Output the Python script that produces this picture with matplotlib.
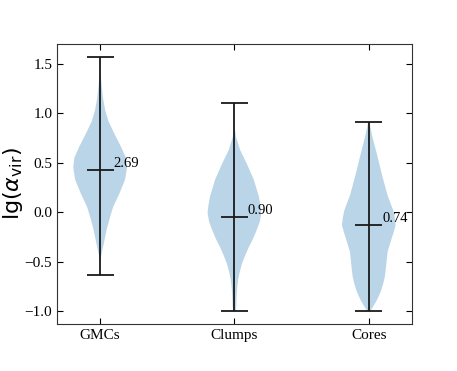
import numpy as np
import matplotlib.pyplot as plt

plt.rcParams['font.family'] = 'Liberation Serif'
plt.rcParams['mathtext.fontset'] = 'dejavusans'

categories = ['GMCs', 'Clumps', 'Cores']
positions = np.array([1, 2, 3])
mins = [-0.63, -1.00, -1.00]
maxs = [1.57, 1.107, 0.915]
medians = [0.43, -0.046, -0.131]
median_labels = ['2.69', '0.90', '0.74']

# violin outlines: level and relative half-width
gmc_y = [1.57, 1.40, 1.27, 1.15, 1.03, 0.92, 0.80, 0.66, 0.55, 0.45, 0.33, 0.19,
         0.05, -0.05, -0.18, -0.30, -0.40, -0.47, -0.55, -0.63]
gmc_w = [0.0, 0.02, 0.06, 0.11, 0.19, 0.31, 0.52, 0.78, 0.96, 1.0, 0.93, 0.72,
         0.48, 0.37, 0.24, 0.15, 0.07, 0.02, 0.0, 0.0]

clump_y = [1.107, 0.85, 0.76, 0.63, 0.49, 0.33, 0.23, 0.16, 0.05, -0.01, -0.10,
           -0.18, -0.27, -0.35, -0.43, -0.52, -0.60, -0.68, -0.77, -0.85, -0.94, -1.0]
clump_w = [0.0, 0.01, 0.06, 0.21, 0.46, 0.72, 0.83, 0.91, 0.98, 1.0, 0.94,
           0.83, 0.69, 0.54, 0.41, 0.28, 0.20, 0.14, 0.10, 0.08, 0.07, 0.05]

core_y = [0.915, 0.78, 0.58, 0.38, 0.17, 0.02, -0.06, -0.13, -0.20, -0.31, -0.40,
          -0.48, -0.56, -0.65, -0.72, -0.79, -0.85, -0.90, -0.95, -1.0]
core_w = [0.02, 0.12, 0.31, 0.49, 0.70, 0.91, 0.97, 1.0, 0.93, 0.80, 0.70,
          0.67, 0.64, 0.60, 0.54, 0.46, 0.37, 0.28, 0.17, 0.06]

profiles = [(gmc_y, gmc_w), (clump_y, clump_w), (core_y, core_w)]

fig, ax = plt.subplots(figsize=(4.57, 3.71), dpi=100)
fig.subplots_adjust(left=0.125, right=0.901, bottom=0.127, top=0.881)

half = 0.2
for pos, (ys, ws) in zip(positions, profiles):
    ws = np.array(ws) * half
    ax.fill_betweenx(ys, pos - ws, pos + ws, facecolor='C0', alpha=0.3, lw=0)

lc = '#1a1a1a'
ax.vlines(positions, mins, maxs, color=lc, lw=1.3)
ax.hlines(mins, positions - 0.1, positions + 0.1, color=lc, lw=1.3)
ax.hlines(maxs, positions - 0.1, positions + 0.1, color=lc, lw=1.3)
ax.hlines(medians, positions - 0.1, positions + 0.1, color=lc, lw=1.3)

for pos, med, lab in zip(positions, medians, median_labels):
    ax.text(pos + 0.1, med, lab, ha='left', va='bottom', fontsize=10.5)

ax.set_xlim(0.68, 3.32)
ax.set_ylim(-1.128, 1.698)
ax.set_xticks(positions)
ax.set_xticklabels(categories)
ax.set_yticks([-1.0, -0.5, 0.0, 0.5, 1.0, 1.5])
ax.tick_params(direction='in', top=True, right=True, length=4, labelsize=11)
ax.set_ylabel(r'lg($\alpha_{\rm vir}$)', family='DejaVu Sans', fontsize=16, labelpad=0)

for s in ax.spines.values():
    s.set_color('#333333')

fig.savefig('out.png', dpi=100)
